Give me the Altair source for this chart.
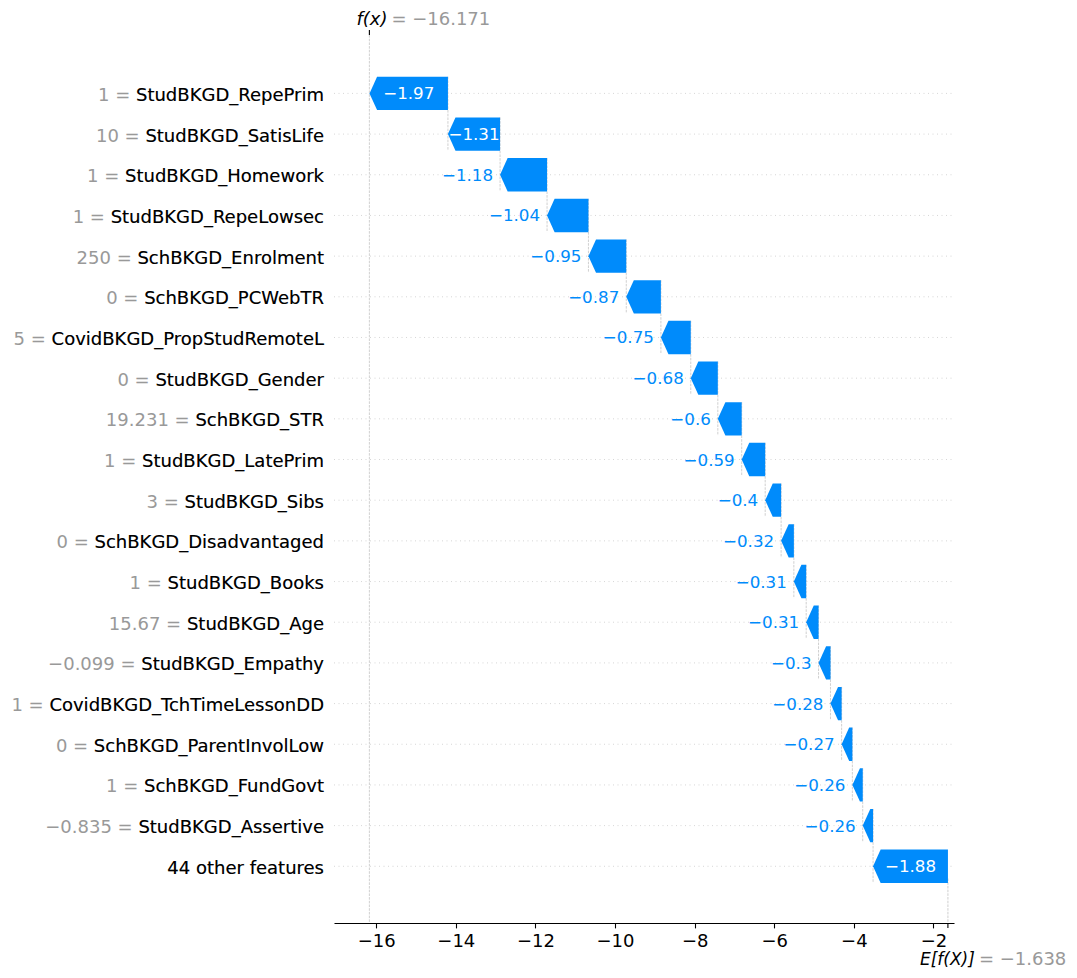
import altair as alt
import pandas as pd

# ---------------- data ----------------
features = ["StudBKGD_RepePrim", "StudBKGD_SatisLife", "StudBKGD_Homework",
            "StudBKGD_RepeLowsec", "SchBKGD_Enrolment", "SchBKGD_PCWebTR",
            "CovidBKGD_PropStudRemoteL", "StudBKGD_Gender", "SchBKGD_STR",
            "StudBKGD_LatePrim", "StudBKGD_Sibs", "SchBKGD_Disadvantaged",
            "StudBKGD_Books", "StudBKGD_Age", "StudBKGD_Empathy",
            "CovidBKGD_TchTimeLessonDD", "SchBKGD_ParentInvolLow",
            "SchBKGD_FundGovt", "StudBKGD_Assertive", "44 other features"]
feature_values = ["1", "10", "1", "1", "250", "0", "5", "0", "19.231", "1", "3",
                  "0", "1", "15.67", "\u22120.099", "1", "0", "1", "\u22120.835", ""]
shap_values = [-1.97, -1.31, -1.18, -1.04, -0.95, -0.87, -0.75, -0.68, -0.6, -0.59,
               -0.4, -0.32, -0.31, -0.31, -0.3, -0.28, -0.27, -0.26, -0.26, -1.88]
base_value = -1.638
fx_value = -16.171
x_ticks = [-16, -14, -12, -10, -8, -6, -4, -2]

# ---------------- layout / style ----------------
W, H = 620, 888
X_DOMAIN = [-17.06, -1.485]
Y_DOMAIN = [-1.436, 20.394]
BLUE = "#008bfb"
FONT = "DejaVu Sans"
HALF = 0.41          # half bar height (rows)
HEAD = 0.19          # arrow head length (data units)
PX_PER_UNIT = W / (X_DOMAIN[1] - X_DOMAIN[0])

n = len(features)
starts, ends = [0.0] * n, [0.0] * n
cum = base_value
for k in range(n - 1, -1, -1):
    starts[k] = cum
    ends[k] = cum + shap_values[k]
    cum = ends[k]

GLYPH = {"\u2212": 1716, ".": 651}
def text_w(s, size):
    return sum(GLYPH.get(c, 1303) for c in s) / 2048 * size

def fmt(v):
    return ("\u2212" if v < 0 else "") + f"{abs(v):g}"

xs = alt.Scale(domain=X_DOMAIN, zero=False, nice=False)
ys = alt.Scale(domain=Y_DOMAIN, zero=False, nice=False, reverse=True)
xaxis = alt.Axis(values=x_ticks, format="d", title=None, grid=False)

def X(f):
    return alt.X(f, type="quantitative", scale=xs, axis=xaxis, title=None)

def X2(f):
    return alt.X2(f)

def Y(f):
    return alt.Y(f, type="quantitative", scale=ys, axis=None, title=None)

# ---------------- tables ----------------
rows = pd.DataFrame({
    "row": list(range(n)),
    "feature": features,
    "gray": [(f"{fv} = {f}" if fv else f) for fv, f in zip(feature_values, features)],
    "val": shap_values,
    "start": starts,
    "end": ends,
    "label": [fmt(v) for v in shap_values],
})
rows["mid"] = (rows["start"] + rows["end"]) / 2
rows["inside"] = [abs(v) * PX_PER_UNIT > text_w(l, 16.7) for v, l in zip(shap_values, rows["label"])]

area_recs = []
for k in range(n):
    hl = min(abs(shap_values[k]), HEAD)
    e, s = ends[k], starts[k]
    for yy, xl in [(k - HALF, e + hl), (k, e), (k + HALF, e + hl)]:
        area_recs.append({"feature": features[k], "yy": yy, "xl": xl, "xr": s})
arrows_df = pd.DataFrame(area_recs)

conn_df = pd.DataFrame({
    "x": [starts[k] for k in range(n - 1)],
    "y1": [k - HALF for k in range(n - 1)],
    "y2": [k + 1 + HALF for k in range(n - 1)],
})
conn_df = pd.concat([conn_df, pd.DataFrame({"x": [base_value], "y1": [n - 1 + 0.3],
                                            "y2": [Y_DOMAIN[1]]})], ignore_index=True)

fx_df = pd.DataFrame({"x": [fx_value], "txt": ["= \u2212" + f"{abs(fx_value):.3f}"]})
e_df = pd.DataFrame({"x": [base_value], "txt": ["= \u2212" + f"{abs(base_value):.3f}"]})

# ---------------- layers ----------------
base_rows = alt.Chart(rows)

grid = base_rows.mark_rule(color="#cccccc", strokeWidth=0.8, strokeDash=[1, 3.5]).encode(
    y=Y("row"), x=alt.value(0), x2=alt.value(W))

fx_line = alt.Chart(fx_df).mark_rule(color="#bbbbbb", strokeWidth=0.7, strokeDash=[2.6, 1.1]).encode(
    x=X("x"), y=alt.value(0), y2=alt.value(H))

conn = alt.Chart(conn_df).mark_rule(color="#bbbbbb", strokeWidth=0.7, strokeDash=[2.6, 1.1]).encode(
    x=X("x"), y=Y("y1"), y2=alt.Y2("y2"))

arrows = alt.Chart(arrows_df).mark_area(color=BLUE, orient="horizontal", opacity=1).encode(
    y=Y("yy"), x=X("xl"), x2=X2("xr"), detail="feature:N")

lab_in = base_rows.transform_filter("datum.inside").mark_text(
    color="#ffffff", font=FONT, fontSize=16.7, align="center", baseline="middle", dy=1).encode(
    x=X("mid"), y=Y("row"), text="label:N")

lab_out = base_rows.transform_filter("!datum.inside").mark_text(
    color=BLUE, font=FONT, fontSize=16.7, align="right", baseline="middle", dx=-7, dy=1).encode(
    x=X("end"), y=Y("row"), text="label:N")

ylab_gray = base_rows.mark_text(color="#999999", font=FONT, fontSize=18, align="right",
                                baseline="middle", dy=2.5).encode(
    x=alt.value(-10), y=Y("row"), text="gray:N")
ylab_black = base_rows.mark_text(color="#000000", font=FONT, fontSize=18, align="right",
                                 baseline="middle", dy=2.5).encode(
    x=alt.value(-10), y=Y("row"), text="feature:N")

fx_tick = alt.Chart(fx_df).mark_rule(color="black", strokeWidth=1.1).encode(
    x=X("x"), y=alt.value(-4.9), y2=alt.value(0))
fx_t1 = alt.Chart(fx_df).mark_text(color="black", font=FONT, fontSize=18, fontStyle="italic",
                                   align="left", baseline="middle", dx=-13).encode(
    x=X("x"), y=alt.value(-15), text=alt.value("f(x)"))
fx_t2 = alt.Chart(fx_df).mark_text(color="#999999", font=FONT, fontSize=18,
                                   align="left", baseline="middle", dx=22).encode(
    x=X("x"), y=alt.value(-15), text="txt:N")

e_tick = alt.Chart(e_df).mark_rule(color="black", strokeWidth=1.1).encode(
    x=X("x"), y=alt.value(H), y2=alt.value(H + 4.9))
e_t1 = alt.Chart(e_df).mark_text(color="black", font=FONT, fontSize=17, fontStyle="italic",
                                 align="left", baseline="middle", dx=-28).encode(
    x=X("x"), y=alt.value(H + 37), text=alt.value("E[f(X)]"))
e_t2 = alt.Chart(e_df).mark_text(color="#999999", font=FONT, fontSize=18,
                                 align="left", baseline="middle", dx=31).encode(
    x=X("x"), y=alt.value(H + 37), text="txt:N")

chart = alt.layer(
    grid, fx_line, conn, arrows, lab_in, lab_out, ylab_gray, ylab_black,
    fx_tick, fx_t1, fx_t2, e_tick, e_t1, e_t2
).properties(
    width=W, height=H,
    background="white",
    autosize=alt.AutoSizeParams(type="none"),
    padding={"left": 326, "top": 27, "right": 114, "bottom": 47},
).configure_view(stroke=None).configure_axisX(
    domainColor="black", domainWidth=1.1, tickColor="black", tickWidth=1.1, tickSize=4.9,
    labelFont=FONT, labelFontSize=18, labelColor="black", labelPadding=4.5,
)

chart.save("out.html", embed_options={"renderer": "svg", "actions": False})
